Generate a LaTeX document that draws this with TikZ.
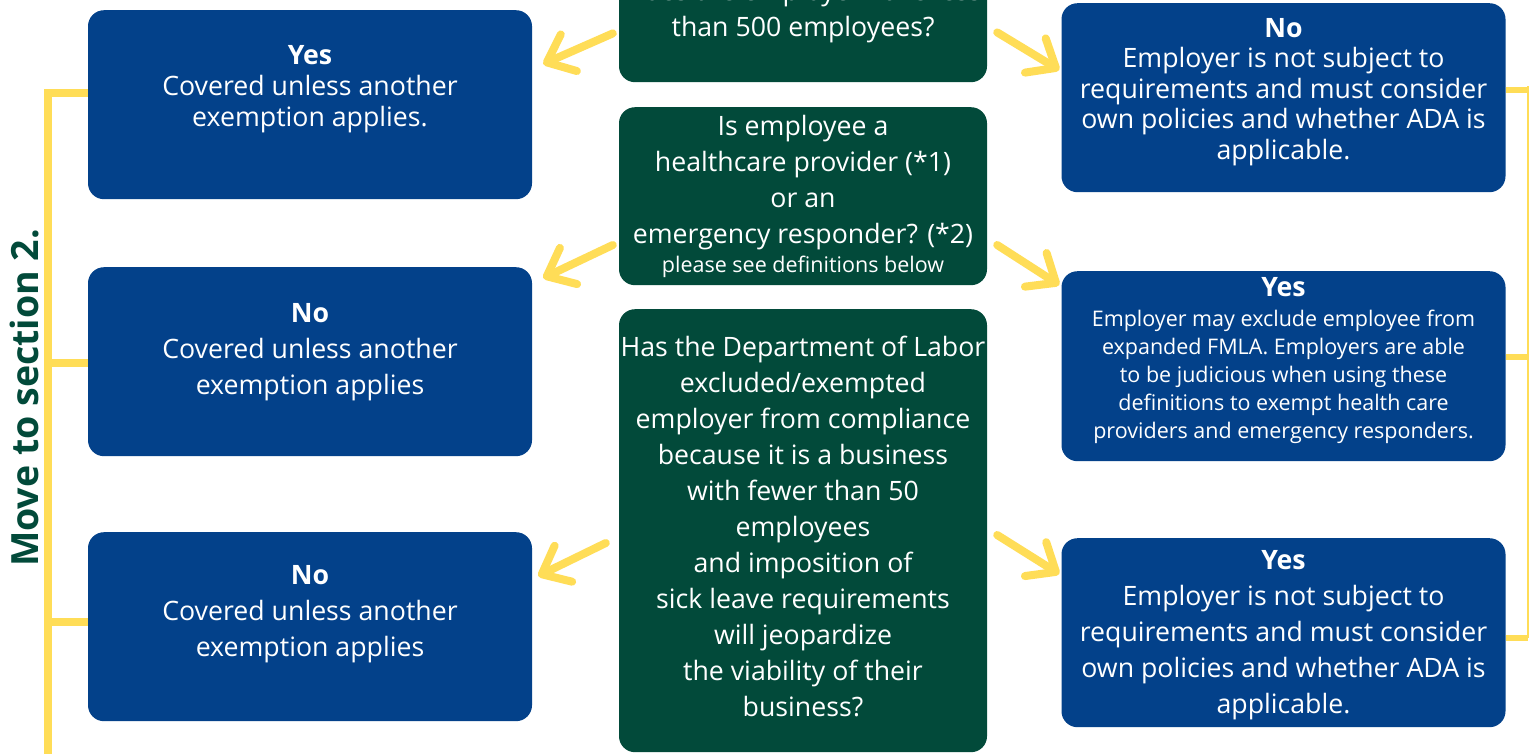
\documentclass[tikz,border=0pt]{standalone}
\usepackage{fontspec}
\setmainfont{Open Sans}
\usetikzlibrary{arrows.meta}
\definecolor{fmblue}{RGB}{3,65,138}
\definecolor{fmgreen}{RGB}{2,74,58}
\definecolor{fmyellow}{RGB}{255,221,87}

\begin{document}
\begin{tikzpicture}[x=1pt, y=-1pt,
    ans/.style={fill=fmblue, text=white, rounded corners=16pt, minimum width=444pt, inner sep=0pt, align=center, anchor=north, font=\fontsize{26.7}{36}\selectfont},
    ques/.style={ans, fill=fmgreen, minimum width=368pt},
    pick/.style={fmyellow, line width=8pt, line cap=round, line join=round, -{Straight Barb[length=24pt, width=40pt, round]}},
    rail/.style={fmyellow, line width=8pt},
    stub/.style={fmyellow, line width=6pt},
    thinrail/.style={fmyellow, line width=2pt}]
    \useasboundingbox[fill=white] (0,0) rectangle (1530,753);

    % questions in the middle
    \node[ques, text height=96pt, text depth=46pt] (q1) at (803,-60) {Does the employer have less\\than 500 employees?};
    \node[ques, text height=165.5pt, text depth=12.5pt] (q2) at (803,107) {Is employee a\\healthcare provider (*1)\\or an\\emergency responder? (*2)\\[-7pt]{\fontsize{21.5}{28}\selectfont please see definitions below}};
    \node[ques, text height=407.5pt, text depth=35.5pt] (q3) at (803,309) {Has the Department of Labor\\excluded/exempted\\employer from compliance\\because it is a business\\with fewer than 50\\employees\\and imposition of\\sick leave requirements\\will jeopardize\\the viability of their\\business?};

    % answers on the left
    \node[ans, text height=116pt, text depth=73pt, font=\fontsize{26.7}{31}\selectfont] (yes1) at (310,10) {\textbf{Yes}\\Covered unless another\\exemption applies.};
    \node[ans, text height=127pt, text depth=62pt] (no2) at (310,267) {\textbf{No}\\Covered unless another\\exemption applies};
    \node[ans, text height=124pt, text depth=65pt] (no3) at (310,532) {\textbf{No}\\Covered unless another\\exemption applies};

    % answers on the right
    \node[ans, text height=156pt, text depth=33pt, font=\fontsize{26.7}{30.5}\selectfont] (no1r) at (1283.5,3) {\textbf{No}\\Employer is not subject to\\requirements and must consider\\own policies and whether ADA is\\applicable.};
    \node[ans, text height=167.5pt, text depth=22.5pt, font=\fontsize{21.5}{28}\selectfont] (yes2r) at (1283.5,271) {{\fontsize{26.7}{28}\selectfont\bfseries Yes}\\[2.5pt]Employer may exclude employee from\\expanded FMLA. Employers are able\\to be judicious when using these\\definitions to exempt health care\\providers and emergency responders.};
    \node[ans, text height=175pt, text depth=14pt] (yes3r) at (1283.5,538) {\textbf{Yes}\\Employer is not subject to\\requirements and must consider\\own policies and whether ADA is\\applicable.};

    \node[rotate=90, text=fmgreen, font=\fontsize{37.5}{40}\selectfont\bfseries] (movesec) at (25,398) {Move to section 2.};

    % yellow arrows
    \draw[pick] ([shift={(-6,-49)}]q1.south west) -- ([shift={(11,54)}]yes1.north east);
    \draw[pick] ([shift={(10,-50)}]q1.south east) -- ([shift={(-2,67)}]no1r.north west);
    \draw[pick] ([shift={(-6,138)}]q2.north west) -- ([shift={(11,11)}]no2.north east);
    \draw[pick] ([shift={(10,138)}]q2.north east) -- ([shift={(-2,14)}]yes2r.north west);
    \draw[pick] ([shift={(-13,234)}]q3.north west) -- ([shift={(6,44)}]no3.north east);
    \draw[pick] ([shift={(10,226)}]q3.north east) -- ([shift={(-2,36)}]yes3r.north west);

    % rail on the left
    \coordinate (l1) at (47.5,93);
    \coordinate (l2) at (47.5,363);
    \coordinate (l3) at (47.5,622);
    \coordinate (lend) at (47.5,760);
    \draw[rail] (yes1.west |- l1) -- (l1) -- (lend);
    \draw[rail] (no2.west |- l2) -- (l2);
    \draw[rail] (no3.west |- l3) -- (l3);

    % rail on the right
    \coordinate (r1) at (1528,90);
    \coordinate (r2) at (1528,357);
    \coordinate (r3) at (1528,638);
    \draw[thinrail] ([yshift=4pt]r1) -- (r3);
    \draw[stub] (no1r.east |- r1) -- (r1);
    \draw[stub] (yes2r.east |- r2) -- (r2);
    \draw[stub] (yes3r.east |- r3) -- (r3);
\end{tikzpicture}
\end{document}
